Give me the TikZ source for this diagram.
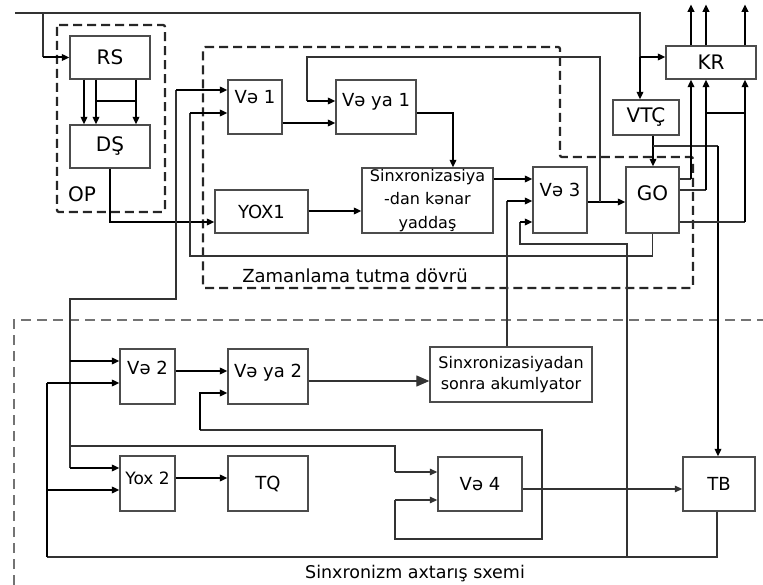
\documentclass[tikz,border=0pt]{standalone}
\usepackage{fontspec}
\setmainfont{DejaVu Sans}
\usetikzlibrary{arrows.meta,calc}
\begin{document}
\begin{tikzpicture}[x=1pt,y=-1pt,
  box/.style={draw=black!70,line width=1.3pt,inner sep=0pt,align=center,font=\fontsize{18}{21}\selectfont},
  big/.style={font=\fontsize{20}{24}\selectfont},
  small/.style={font=\fontsize{16}{22}\selectfont},
  lift/.style={text height=13.1pt,text depth=#1},
  wire/.style={draw=black!80,line width=1.2pt},
  bold/.style={draw=black,line width=2pt},
  arr/.style={-{Triangle[length=7.5pt,width=6.5pt]}},
  lbl/.style={font=\fontsize{18}{21}\selectfont,inner sep=0pt},
  opdash/.style={draw=black!85,line width=2.3pt,dash pattern=on 9pt off 5pt,rounded corners=2pt},
  lowdash/.style={draw=black!55,line width=1.4pt,dash pattern=on 10pt off 6pt}
]
\useasboundingbox (0,0) rectangle (763,585);

% dashed frames
\draw[opdash] (57,25) rectangle (165,212);
\draw[opdash] (203,47) -- (560,47) -- (560,157) -- (693,157) -- (693,288) -- (203,288) -- cycle;
\draw[lowdash] (14,585) -- (14,320) -- (763,320);
\node[lbl,big,anchor=base] (op) at (82,202) {OP};
\node[lbl,anchor=base] (zam) at (355,283) {Zamanlama tutma dövrü};
\node[lbl,font=\fontsize{17.5}{20}\selectfont,anchor=base] (sxa) at (415,578.5) {Sinxronizm axtarış sxemi};

% boxes
\node[box,big,fill=white,minimum width=80pt,minimum height=43pt] (rs) at (110,57.5) {RS};
\node[box,big,fill=white,minimum width=80pt,minimum height=43pt] (ds) at (110,146.5) {DŞ};
\node[box,fill=white,minimum width=54pt,minimum height=54pt,lift=20pt] (ve1) at (255,107) {Və 1};
\node[box,fill=white,minimum width=80pt,minimum height=54pt,lift=14pt] (vya1) at (376,107) {Və ya 1};
\node[box,fill=white,minimum width=93pt,minimum height=43pt] (yox1) at (261.5,211.5) {YOX1};
\node[box,small,fill=white,minimum width=131pt,minimum height=65pt,font=\fontsize{16}{23.5}\selectfont] (sinx) at (427.5,200.5) {Sinxronizasiya\\-dan kənar\\yaddaş};
\node[box,fill=white,minimum width=54pt,minimum height=66pt,lift=20pt] (ve3) at (560,200) {Və 3};
\node[box,big,fill=white,minimum width=53pt,minimum height=66pt,text height=14.6pt,text depth=14pt] (go) at (652.5,200) {GO};
\node[box,big,fill=white,minimum width=66pt,minimum height=35pt] (vtc) at (646,117.5) {VTÇ};
\node[box,big,fill=white,minimum width=90pt,minimum height=33pt] (kr) at (711,62.5) {KR};
\node[box,fill=white,minimum width=55pt,minimum height=55pt,lift=17pt] (ve2) at (147.5,376.5) {Və 2};
\node[box,fill=white,minimum width=80pt,minimum height=55pt,lift=11pt] (vya2) at (268,376.5) {Və ya 2};
\node[box,fill=white,minimum width=162pt,minimum height=55pt,font=\fontsize{16}{21}\selectfont] (akum) at (511,374.5) {Sinxronizasiyadan\\sonra akumlyator};
\node[box,fill=white,minimum width=55pt,minimum height=55pt,lift=11pt,font=\fontsize{17}{20}\selectfont] (yox2) at (147.5,483.5) {Yox 2};
\node[box,fill=white,minimum width=80pt,minimum height=55pt] (tq) at (268,483.5) {TQ};
\node[box,fill=white,minimum width=84pt,minimum height=54pt] (ve4) at (480,484) {Və 4};
\node[box,fill=white,minimum width=72pt,minimum height=54pt] (tb) at (719,484) {TB};

% top line
\coordinate (tl) at (15,13);
\draw[wire] (tl) -- (640,13) -- (640,57);
\draw[bold,arr] (640,57) -- ($(vtc.north)+(-6,0)$);
\draw[bold,arr] (640,57) -- ($(kr.west)+(0,-5.5)$);
\draw[wire] (43,13) -- (43,57.5);
\draw[bold,arr] (43,57.5) -- (rs.west);

% RS -> DS
\foreach \dx in {-26,-14,26} \draw[bold,arr] ($(rs.south)+(\dx,0)$) -- ($(ds.north)+(\dx,0)$);
\draw[bold] (96,101) -- (136,101);

% DS -> YOX1
\draw[bold,arr] (ds.south) -- (110,222) -- ($(yox1.west)+(0,10.5)$);

% trunk to lower section
\draw[wire] (176,90) -- (176,299) -- (70,299) -- (70,468);
\draw[bold,arr] (176,90) -- ($(ve1.west)+(0,-17)$);
\draw[bold,arr] (70,361) -- ($(ve2.west)+(0,-15.5)$);
\draw[bold,arr] (70,468) -- ($(yox2.west)+(0,-15.5)$);
\draw[wire] (70,446) -- (395,446) -- (395,472);
\draw[wire,arr] (395,472) -- ($(ve4.west)+(0,-12)$);

% GO bottom -> Ve 1
\draw[wire] (go.south) -- (652.5,256) -- (190,256) -- (190,113);
\draw[bold,arr] (190,113) -- ($(ve1.west)+(0,6)$);

% Ve1 -> Ve ya 1
\draw[bold,arr] ($(ve1.east)+(0,16)$) -- ($(vya1.west)+(0,16)$);

% Ve3 -> GO and feedback
\draw[bold,arr] ($(ve3.east)+(0,2)$) -- ($(go.west)+(0,2)$);
\draw[wire] (600,202) -- (600,57) -- (307,57) -- (307,101);
\draw[bold,arr] (307,101) -- ($(vya1.west)+(0,-6)$);

% Ve ya 1 -> Sinx
\draw[bold,arr] ($(vya1.east)+(0,6)$) -- (453,113) -- ($(sinx.north)+(25.5,0)$);
% YOX1 -> Sinx
\draw[bold,arr] ($(yox1.east)+(0,-0.5)$) -- ($(sinx.west)+(0,10.5)$);
% Sinx -> Ve3
\draw[bold,arr] ($(sinx.east)+(0,-21.5)$) -- ($(ve3.west)+(0,-21)$);
% akum -> Ve3
\draw[wire] ($(akum.north)+(-4,0)$) -- (507,201);
\draw[bold,arr] (507,201) -- ($(ve3.west)+(0,1)$);

% bottom loop from TB
\draw[wire] ($(tb.south)+(-2,0)$) -- (717,557) -- (47,557);
\draw[bold] (47,557) -- (47,383);
\draw[bold,arr] (47,383) -- ($(ve2.west)+(0,6.5)$);
\draw[bold,arr] (47,490) -- ($(yox2.west)+(0,6.5)$);
\draw[wire] (627,557) -- (627,244) -- (520,244) -- (520,222);
\draw[bold,arr] (520,222) -- ($(ve3.west)+(0,22)$);

% lower section
\draw[bold,arr] ($(ve2.east)+(0,-5.5)$) -- ($(vya2.west)+(0,-5.5)$);
\draw[wire,-{Triangle[length=13pt,width=11pt]}] ($(vya2.east)+(0,4.5)$) -- ($(akum.west)+(0,6.5)$);
\draw[wire] (200,430) -- (542,430) -- (542,539) -- (395,539) -- (395,500);
\draw[bold,arr] (200,430) -- (200,393) -- ($(vya2.west)+(0,16.5)$);
\draw[wire,arr] (395,500) -- ($(ve4.west)+(0,16)$);
\draw[bold,arr] ($(yox2.east)+(0,-5.5)$) -- ($(tq.west)+(0,-5.5)$);
\draw[wire,arr] ($(ve4.east)+(0,5)$) -- ($(tb.west)+(0,5)$);

% VTC -> GO, TB
\draw[bold,arr] ($(vtc.south)+(7,0)$) -- ($(go.north)+(0.5,0)$);
\draw[wire] (653,146) -- (718,146);
\draw[bold,arr] (718,146) -- ($(tb.north)+(-1,0)$);

% GO -> KR
\draw[wire] ($(go.east)+(0,-21)$) -- (691,179);
\draw[bold,arr] (691,179) -- ($(kr.south)+(-20,0)$);
\draw[wire] ($(go.east)+(0,-10)$) -- (706,190);
\draw[bold,arr] (706,190) -- ($(kr.south)+(-5,0)$);
\draw[wire] ($(go.east)+(0,22)$) -- (745,222);
\draw[bold,arr] (745,222) -- ($(kr.south)+(34,0)$);
\draw[bold] (706,113) -- (745,113);

% KR outputs
\foreach \dx in {-20,-5,34} \draw[bold,arr] ($(kr.north)+(\dx,0)$) -- ++(0,-41);
\end{tikzpicture}
\end{document}
